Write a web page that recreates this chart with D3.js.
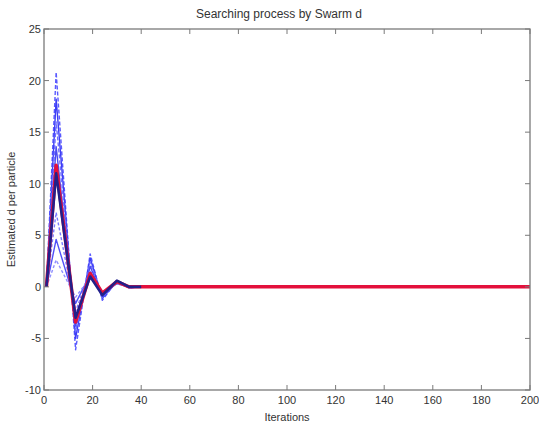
<!DOCTYPE html>
<html><head><meta charset="utf-8">
<script src="https://cdn.jsdelivr.net/npm/d3@7"></script>
<style>body{margin:0;background:#fff}svg{display:block}text{font-family:"Liberation Sans",Arial,sans-serif}</style>
</head><body>
<script>
const keyIters = [1, 5, 13, 19, 24, 30, 35, 40];
const particleValues = [
  [0, 20.8, -6.1, 3.2, -1.3, 0.6, -0.1, 0],
  [0, 18.2, -5.0, 2.8, -1.1, 0.5, -0.1, 0],
  [0, 16.0, -4.3, 2.4, -1.0, 0.5, 0.0, 0],
  [0, 13.6, -3.8, 2.0, -0.9, 0.4, 0.0, 0],
  [0, 7.2, -2.4, 1.6, -0.7, 0.4, 0.0, 0],
  [0, 4.6, -1.6, 1.2, -0.6, 0.3, 0.0, 0],
  [0, 2.6, -1.0, 0.9, -0.5, 0.3, 0.0, 0]
];
const navyValues = [0, 11.0, -3.0, 1.0, -0.8, 0.6, 0.0, 0];
const meanIters = [1, 5, 13, 19, 24, 30, 35, 40, 200];
const meanValues = [0, 11.8, -3.4, 1.3, -0.6, 0.5, 0.0, 0, 0];
const xTicks = [0, 20, 40, 60, 80, 100, 120, 140, 160, 180, 200];
const yTicks = [-10, -5, 0, 5, 10, 15, 20, 25];

const W = 539, H = 429;
const m = {l: 44, r: 9, t: 29, b: 39};
const svg = d3.select("body").append("svg").attr("width", W).attr("height", H);
const x = d3.scaleLinear().domain([0, 200]).range([m.l, W - m.r]);
const y = d3.scaleLinear().domain([-10, 25]).range([H - m.b, m.t]);

const line = d3.line().x(d => x(d[0])).y(d => y(d[1]));
const blues = ["#5a5aff", "#3d3df5", "#6f6fff", "#4b4bf0", "#7a7aff", "#5050f8", "#9090ff"];
const dashes = ["4,2", null, "4,2", null, "3,2", null, "3,2"];
particleValues.forEach((vals, i) => {
  svg.append("path").attr("d", line(keyIters.map((t, k) => [t, vals[k]])))
    .attr("fill", "none").attr("stroke", blues[i]).attr("stroke-width", 1.4)
    .attr("stroke-dasharray", dashes[i]).attr("stroke-linejoin", "round");
});
svg.append("path").attr("d", line(meanIters.map((t, k) => [t, meanValues[k]])))
  .attr("fill", "none").attr("stroke", "#e3103c").attr("stroke-width", 3.5).attr("stroke-linejoin", "round");
svg.append("path").attr("d", line(keyIters.map((t, k) => [t, navyValues[k]])))
  .attr("fill", "none").attr("stroke", "#22208a").attr("stroke-width", 2.6).attr("stroke-linejoin", "round");

// frame
const fc = "#7a7a7a";
svg.append("rect").attr("x", x(0)).attr("y", y(25)).attr("width", x(200) - x(0)).attr("height", y(-10) - y(25))
  .attr("fill", "none").attr("stroke", fc).attr("stroke-width", 1.3);
const tl = 5;
xTicks.forEach(t => {
  svg.append("line").attr("x1", x(t)).attr("x2", x(t)).attr("y1", y(-10)).attr("y2", y(-10) - tl).attr("stroke", fc);
  svg.append("line").attr("x1", x(t)).attr("x2", x(t)).attr("y1", y(25)).attr("y2", y(25) + tl).attr("stroke", fc);
  svg.append("text").attr("x", x(t)).attr("y", y(-10) + 14).attr("text-anchor", "middle")
    .attr("font-size", 11).attr("fill", "#333").text(t);
});
yTicks.forEach(t => {
  svg.append("line").attr("x1", x(0)).attr("x2", x(0) + tl).attr("y1", y(t)).attr("y2", y(t)).attr("stroke", fc);
  svg.append("line").attr("x1", x(200)).attr("x2", x(200) - tl).attr("y1", y(t)).attr("y2", y(t)).attr("stroke", fc);
  svg.append("text").attr("x", x(0) - 3).attr("y", y(t) + 4).attr("text-anchor", "end")
    .attr("font-size", 11).attr("fill", "#333").text(t);
});
svg.append("text").attr("x", 279).attr("y", 18).attr("text-anchor", "middle")
  .attr("font-size", 12).attr("fill", "#333").text("Searching process by Swarm d");
svg.append("text").attr("x", (x(0) + x(200)) / 2).attr("y", 421).attr("text-anchor", "middle")
  .attr("font-size", 11).attr("fill", "#333").text("Iterations");
svg.append("text").attr("transform", `translate(15,${(y(25) + y(-10)) / 2}) rotate(-90)`).attr("text-anchor", "middle")
  .attr("font-size", 11).attr("fill", "#333").text("Estimated d per particle");
</script>
</body></html>
